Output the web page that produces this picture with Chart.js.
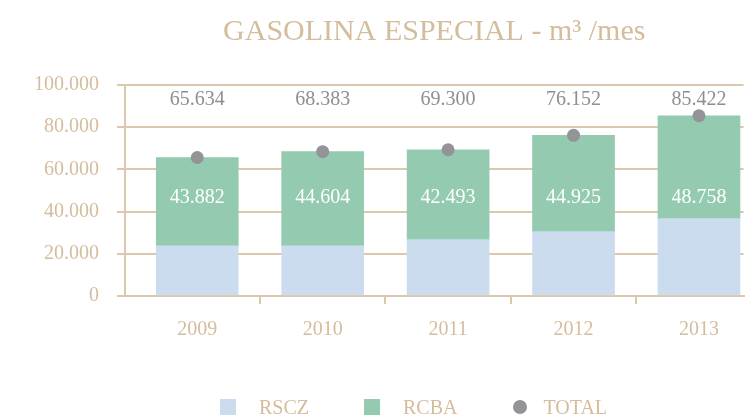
<!DOCTYPE html>
<html>
<head>
<meta charset="utf-8">
<script src="https://cdn.jsdelivr.net/npm/chart.js@4.4.1/dist/chart.umd.min.js"></script>
<style>
  html, body { margin: 0; padding: 0; background: #fff; }
  #wrap { position: relative; width: 750px; height: 418px; }
  #legend { position: absolute; left: 220px; top: 399px; display: flex; align-items: center;
    font: 20px 'Liberation Serif', serif; color: #d4bd9c; line-height: 16px; }
  #legend .item { display: flex; align-items: center; margin-right: 55px; }
  #legend .sw { width: 16px; height: 16px; margin-right: 23px; }
  #legend .dot { width: 14px; height: 14px; border-radius: 50%; margin-right: 17px; }
</style>
</head>
<body>
<div id="wrap">
  <canvas id="chart"></canvas>
  <div id="legend"></div>
</div>
<script>
// values
const years = ['2009', '2010', '2011', '2012', '2013'];
const rscz = [23800, 23800, 26700, 30500, 36700];
const rcba = [41800, 44600, 42600, 45700, 48700];   // drawn segment heights
const rcbaShown = [43882, 44604, 42493, 44925, 48758]; // numbers printed on the green part
const total = [65634, 68383, 69300, 76152, 85422];

const beige = '#d4bd9c';
const gridBeige = '#dcc8ac';
const blue = '#cbdcee';
const green = '#93cab0';
const grey = '#939398';

const fmt = v => String(v).replace(/\B(?=(\d{3})+(?!\d))/g, '.');

Chart.defaults.font.family = "'Liberation Serif', serif";
Chart.defaults.font.size = 20;

// printed values: totals in a row at the top, RCBA in a row inside the green
const valueLabels = {
  id: 'valueLabels',
  afterDatasetsDraw(chart) {
    const ctx = chart.ctx;
    const y = chart.scales.y;
    const bars = chart.getDatasetMeta(1).data;
    ctx.save();
    ctx.font = "20px 'Liberation Serif', serif";
    ctx.textAlign = 'center';
    ctx.textBaseline = 'middle';
    bars.forEach((bar, i) => {
      ctx.fillStyle = '#ffffff';
      ctx.fillText(fmt(rcbaShown[i]), bar.x, y.getPixelForValue(46400));
      ctx.fillStyle = '#8e8e93';
      ctx.fillText(fmt(total[i]), bar.x, y.getPixelForValue(93000));
    });
    ctx.restore();
  }
};

new Chart(document.getElementById('chart'), {
  type: 'bar',
  data: {
    datasets: [
      {
        label: 'RSCZ',
        data: rscz.map((v, i) => ({ x: i, y: v })),
        backgroundColor: blue,
        barThickness: 82,
        order: 1
      },
      {
        label: 'RCBA',
        data: rcba.map((v, i) => ({ x: i, y: v })),
        backgroundColor: green,
        barThickness: 82,
        order: 1
      },
      {
        label: 'TOTAL',
        type: 'line',
        data: total.map((v, i) => ({ x: i, y: v })),
        showLine: false,
        pointRadius: 6.5,
        pointBorderWidth: 0,
        pointBackgroundColor: grey,
        backgroundColor: grey,
        borderColor: grey,
        order: 0
      }
    ]
  },
  plugins: [valueLabels],
  options: {
    responsive: true,
    maintainAspectRatio: false,
    animation: false,
    layout: { padding: { left: 0, right: 0, top: 0, bottom: 62 } },
    plugins: {
      legend: { display: false },
      tooltip: { enabled: false },
      title: {
        display: true,
        fullSize: false,
        text: 'GASOLINA ESPECIAL - m\u00b3 /mes',
        color: beige,
        font: { size: 30, weight: 'normal' },
        padding: { top: 14, bottom: 35 }
      }
    },
    scales: {
      x: {
        type: 'linear',
        min: -0.576,
        max: 4.355,
        offset: false,
        stacked: true,
        afterBuildTicks: s => { s.ticks = [0, 0.5, 1, 1.5, 2, 2.5, 3, 3.5, 4].map(v => ({ value: v })); },
        ticks: {
          autoSkip: false,
          maxRotation: 0,
          padding: 14,
          color: beige,
          callback: v => Number.isInteger(v) ? years[v] : ''
        },
        grid: {
          offset: false,
          drawOnChartArea: false,
          tickLength: 8,
          lineWidth: 2,
          color: c => (c.tick && c.tick.value % 1) ? gridBeige : 'rgba(0,0,0,0)'
        },
        border: { color: gridBeige, width: 2 }
      },
      y: {
        min: 0,
        max: 100000,
        stacked: true,
        afterFit: s => { s.width = 125; },
        ticks: { stepSize: 20000, padding: 18, color: beige, callback: v => fmt(v) },
        grid: { color: gridBeige, lineWidth: 2, tickLength: 8 },
        border: { color: gridBeige, width: 2 }
      }
    }
  }
});

// legend under the chart
const legend = document.getElementById('legend');
[['RSCZ', blue, 'sw'], ['RCBA', green, 'sw'], ['TOTAL', grey, 'dot']].forEach(([name, col, cls]) => {
  const item = document.createElement('div');
  item.className = 'item';
  item.innerHTML = '<span class="' + cls + '" style="background:' + col + '"></span><span>' + name + '</span>';
  legend.appendChild(item);
});
</script>
</body>
</html>
